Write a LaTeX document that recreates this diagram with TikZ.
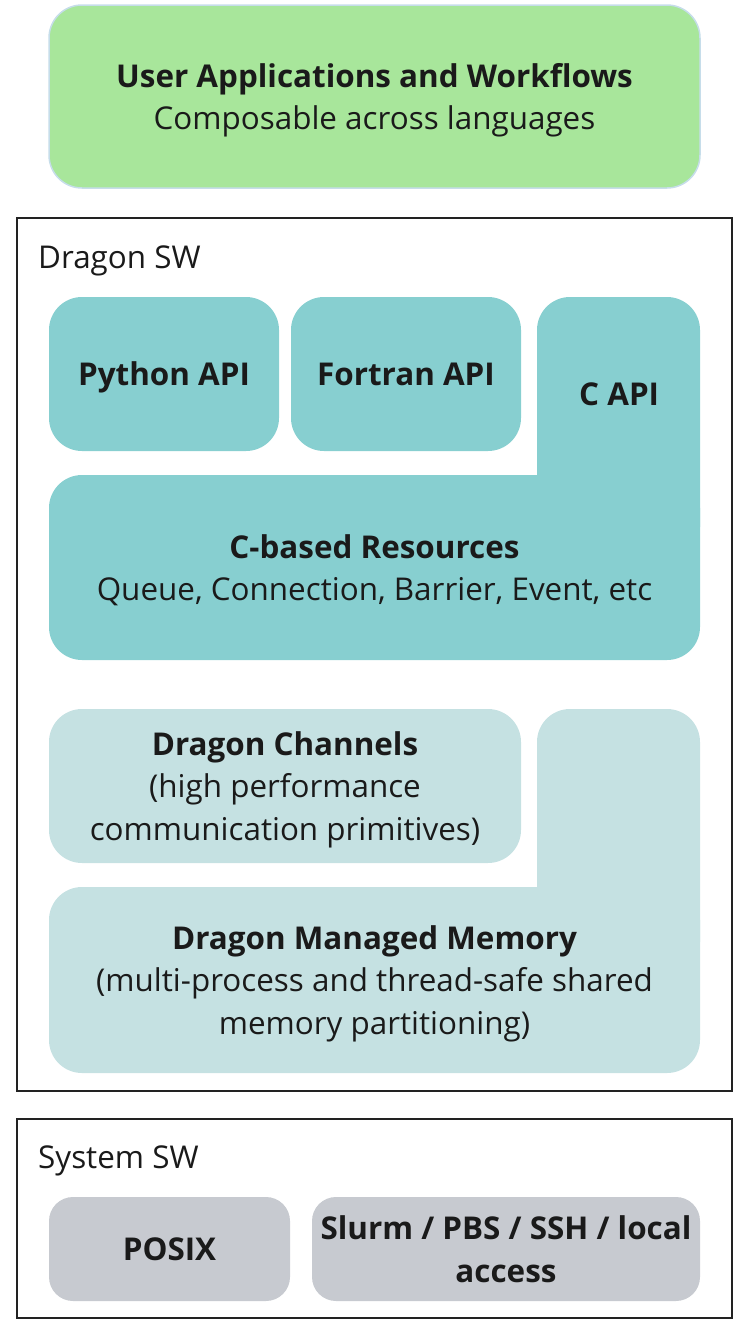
\documentclass[tikz,border=0pt]{standalone}
\usepackage{fontspec}
\setmainfont{Open Sans}
\usetikzlibrary{positioning}

\definecolor{appgreen}{HTML}{A8E69B}
\definecolor{appedge}{HTML}{C6DDEA}
\definecolor{apiteal}{HTML}{87CFD0}
\definecolor{coreteal}{HTML}{C5E1E2}
\definecolor{sysgray}{HTML}{C7CAD0}
\definecolor{ink}{HTML}{1A1A1A}
\definecolor{framegray}{HTML}{222222}

\begin{document}
\begin{tikzpicture}[
    x=1pt, y=-1pt,
    every node/.style={font=\fontsize{31.4}{42.5}\selectfont, text=ink},
    block/.style={rectangle, rounded corners=33pt, inner sep=0pt, align=center, text depth=0pt},
    app/.style={block, fill=appgreen, draw=appedge, line width=1.5pt},
    api/.style={block, fill=apiteal},
    core/.style={block, fill=coreteal},
    sys/.style={block, rounded corners=24pt, fill=sysgray},
    frame/.style={rectangle, draw=framegray, line width=1.6pt, inner sep=0pt},
    caption/.style={anchor=base west, inner sep=0pt}
]
\useasboundingbox (0,0) rectangle (749,1333);

% User layer
\node[app, minimum width=651, minimum height=183] (apps) at (374.5,96.5)
    {\textbf{User Applications and Workflows}\\Composable across languages};

% Dragon SW
\node[frame, minimum width=715, minimum height=873] (dragonsw) at (374.5,654.5) {};
\node[caption] (dragonlbl) at (38,268) {Dragon SW};

\node[api, minimum width=230, minimum height=154] (python) at (164,374) {\textbf{Python API}};
\node[api, minimum width=230, minimum height=154] (fortran) at (406,374) {\textbf{Fortran API}};
\node[api, minimum width=163, minimum height=263] (ccol) at (618.5,428.5) {};
\node[api, minimum width=651, minimum height=185] (cres) at (374.5,567.5)
    {\textbf{C-based Resources}\\Queue, Connection, Barrier, Event, etc};
\node[caption] (capi) at (579,405) {\textbf{C API}};

\node[core, minimum width=472, minimum height=154] (channels) at (285,786)
    {\textbf{Dragon Channels}\\(high performance\\communication primitives)};
\node[core, minimum width=163, minimum height=266] (memcol) at (618.5,842) {};
\node[core, minimum width=651, minimum height=186] (memory) at (374.5,980)
    {\textbf{Dragon Managed Memory}\\(multi-process and thread-safe shared\\memory partitioning)};

% System SW
\node[frame, minimum width=715, minimum height=199] (systemsw) at (374.5,1218.5) {};
\node[caption] (systemlbl) at (38,1168) {System SW};

\node[sys, minimum width=241, minimum height=104] (posix) at (169.5,1249) {\textbf{POSIX}};
\node[sys, minimum width=388, minimum height=104] (launch) at (506,1249)
    {\textbf{Slurm / PBS / SSH / local}\\\textbf{access}};

\end{tikzpicture}
\end{document}
